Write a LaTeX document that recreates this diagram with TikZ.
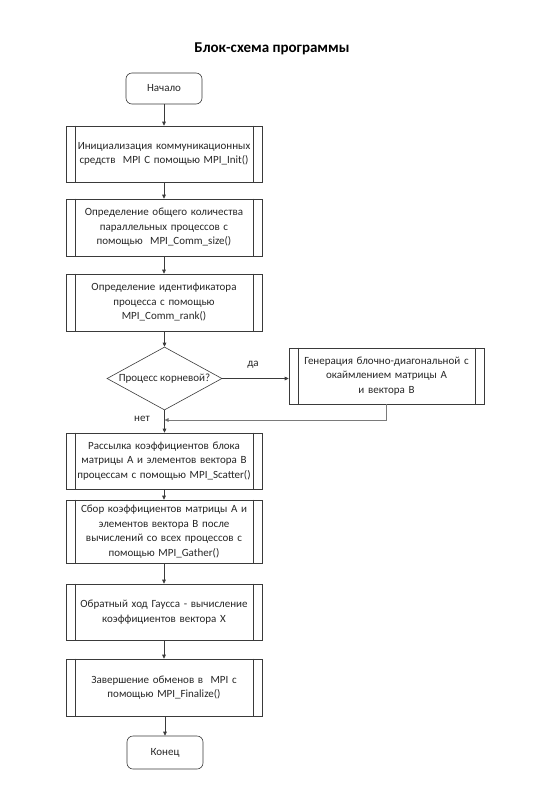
\documentclass[tikz,border=0pt]{standalone}
\usepackage{fontspec}
\setmainfont{Carlito}
\usetikzlibrary{shapes.geometric,arrows.meta}
\definecolor{linec}{HTML}{3A3A3A}
\definecolor{retc}{HTML}{7A7A7A}
\begin{document}
\begin{tikzpicture}[x=1pt,y=-1pt,
  every node/.style={font=\fontsize{11}{14.5}\selectfont, text=black!85},
  term/.style={draw=linec, line width=0.6pt, rounded corners=6pt, minimum width=76pt, minimum height=31pt, inner sep=0pt},
  subproc/.style={draw=linec, line width=0.6pt, rectangle, minimum width=196pt, text width=186pt, align=center, inner sep=0pt,
    append after command={([xshift=9.5pt]\tikzlastnode.north west) edge[draw=linec, line width=0.6pt] ([xshift=9.5pt]\tikzlastnode.south west)
      ([xshift=-9.5pt]\tikzlastnode.north east) edge[draw=linec, line width=0.6pt] ([xshift=-9.5pt]\tikzlastnode.south east)}},
  decis/.style={draw=linec, line width=0.6pt, shape=diamond, aspect=1.83, minimum width=115pt, minimum height=63pt, inner sep=0pt},
  conn/.style={draw=linec, line width=0.6pt, -{Triangle[length=4pt,width=3.6pt]}},
  retconn/.style={draw=retc, line width=0.8pt, -{Triangle[length=4pt,width=3.6pt,fill=linec]}},
  lbl/.style={inner sep=0pt}
]
\useasboundingbox (0,0) rectangle (540,788);
\node[lbl, font=\fontsize{15}{18}\selectfont\bfseries, text=black] (title) at (272,49) {Блок-схема программы};
\node[term] (start) at (164,88.5) {Начало};
\node[subproc, minimum height=56pt] (b1) at (164,154) {Инициализация коммуникационных\\средств\ \ MPI С помощью MPI\_Init()};
\node[subproc, minimum height=57pt] (b2) at (164,227.5) {Определение общего количества\\параллельных процессов с\\помощью\ \ MPI\_Comm\_size()};
\node[subproc, minimum height=57pt] (b3) at (164,302.5) {Определение идентификатора\\процесса с помощью\\MPI\_Comm\_rank()};
\node[decis] (dec) at (164.5,378.5) {\makebox[0pt]{Процесс корневой?}};
\node[subproc, minimum width=195pt, minimum height=56pt] (rb) at (386.5,376) {Генерация блочно-диагональной с\\окаймлением матрицы А\\и вектора В};
\node[subproc, minimum height=56pt] (b4) at (164,461) {Рассылка коэффициентов блока\\матрицы А и элементов вектора В\\процессам с помощью MPI\_Scatter()};
\node[subproc, minimum height=63pt] (b5) at (164,531.5) {Сбор коэффициентов матрицы А и\\элементов вектора В после\\вычислений со всех процессов с\\помощью MPI\_Gather()};
\node[subproc, minimum height=56pt] (b6) at (164,612) {Обратный ход Гаусса - вычисление\\коэффициентов вектора Х};
\node[subproc, minimum height=57pt] (b7) at (164,687.5) {Завершение обменов в\ \ MPI с\\помощью MPI\_Finalize()};
\node[term, minimum height=33pt] (end) at (165,752.5) {Конец};
\node[lbl] (yes) at (253,365) {да};
\node[lbl] (no) at (142,419) {нет};
\coordinate (m) at (164.5,420);
\draw[conn] (start) -- (b1);
\draw[conn] (b1) -- (b2);
\draw[conn] (b2) -- (b3);
\draw[conn] (b3.south -| dec.north) -- (dec.north);
\draw[conn] (dec.east) -- (dec.east -| rb.west);
\draw[conn] (dec.south) -- (dec.south |- b4.north);
\draw[retconn] (rb.south) |- (m);
\draw[conn] (b4) -- (b5);
\draw[conn] (b5) -- (b6);
\draw[conn] (b6) -- (b7);
\draw[conn] (b7.south) -- (b7.south -| end.north) -- (end.north);
\end{tikzpicture}
\end{document}
